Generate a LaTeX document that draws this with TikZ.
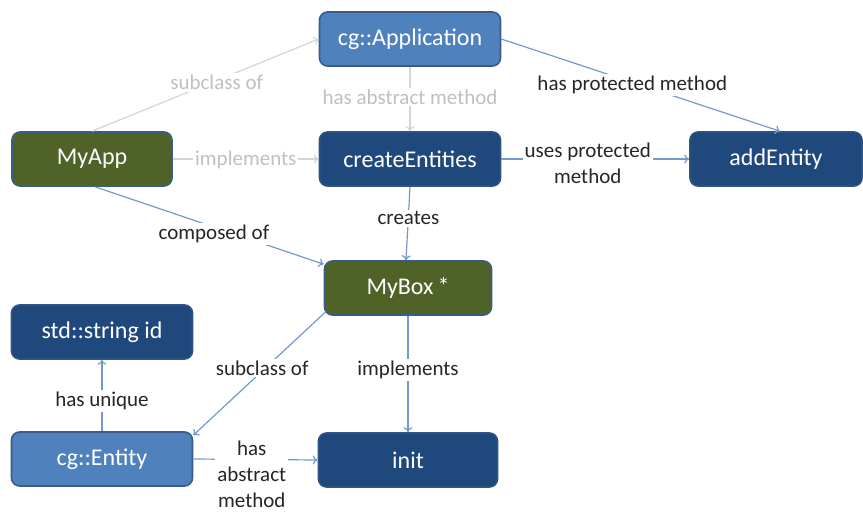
\documentclass[tikz,border=0pt]{standalone}
\usepackage{fontspec}
\setmainfont{Carlito}
\usetikzlibrary{arrows.meta}
\definecolor{lightbluefill}{HTML}{4F81BD}
\definecolor{darkbluefill}{HTML}{1F497D}
\definecolor{olivefill}{HTML}{4F6228}
\definecolor{boxborder}{HTML}{385D8A}
\definecolor{darkborder}{HTML}{2E5282}
\definecolor{bluelink}{HTML}{729ACF}
\definecolor{greylink}{HTML}{D4D4D4}
\definecolor{greytext}{HTML}{C0C0C0}
\definecolor{labeltext}{HTML}{262626}
\tikzset{
  box/.style={rounded corners=8pt, line width=1.6pt, text=white,
    minimum height=54pt, font=\fontsize{24}{26}\selectfont, inner sep=0pt},
  classbox/.style={box, fill=lightbluefill, draw=boxborder},
  methodbox/.style={box, fill=darkbluefill, draw=darkborder},
  userbox/.style={box, fill=olivefill, draw=boxborder},
  link/.style={draw=bluelink, line width=1.2pt, -{To[length=5pt,width=9pt]}},
  greyl/.style={draw=greylink, line width=1.2pt, -{To[length=5pt,width=9pt]}},
  lbl/.style={fill=white, text=labeltext, font=\fontsize{21}{26}\selectfont, inner sep=2pt, align=center},
  glbl/.style={lbl, text=greytext},
}
\begin{document}
\begin{tikzpicture}[x=1pt,y=-1pt]
\useasboundingbox (0,0) rectangle (863,512);
% class and method boxes
\node[classbox, minimum width=181pt] (app) at (410,39) {cg::Application};
\node[userbox, minimum width=160pt] (myapp) at (92,159) {MyApp};
\node[methodbox, minimum width=181pt] (create) at (410,159) {createEntities};
\node[methodbox, minimum width=172pt] (add) at (776,159) {addEntity};
\node[userbox, minimum width=167pt] (mybox) at (408,288) {MyBox\,*};
\node[methodbox, minimum width=181pt] (strid) at (102,332) {std::string id};
\node[classbox, minimum width=181pt] (entity) at (102,459) {cg::Entity};
\node[methodbox, minimum width=179pt] (init) at (408,460) {init};
% framework relations (grey)
\draw[greyl] (myapp.north) -- node[glbl, pos=0.55, yshift=-2pt] {subclass of} (app.west);
\draw[greyl] (app.south) -- node[glbl, pos=0.47] {has abstract method} (create.north);
\draw[greyl] (myapp.east) -- node[glbl, pos=0.5, yshift=-1pt] {implements} (create.west);
% application relations (blue)
\draw[link] (app.east) -- node[lbl, pos=0.47, yshift=-3pt] {has protected method} ([xshift=4pt]add.north);
\draw[link] (create.east) -- node[lbl, pos=0.46, yshift=-4pt] {uses protected\\method} (add.west);
\draw[link] (create.south) -- node[lbl, pos=0.39, yshift=-3pt] {creates} ([xshift=-2pt]mybox.north);
\draw[link] ([xshift=3pt]myapp.south) -- node[lbl, pos=0.52, yshift=-7pt] {composed of} ([yshift=-4pt]mybox.north west);
\draw[link] ([xshift=2pt,yshift=4pt]mybox.south west) -- node[lbl, pos=0.48, yshift=3pt] {subclass of} ([yshift=-4pt]entity.north east);
\draw[link] (mybox.south) -- node[lbl, pos=0.44, yshift=-3pt] {implements} (init.north);
\draw[link] (entity.north) -- node[lbl, pos=0.46, yshift=-3pt] {has unique} (strid.south);
\draw[link] (entity.east) -- node[lbl, pos=0.47, yshift=-15pt] {has\\abstract\\method} (init.west);
\end{tikzpicture}
\end{document}
